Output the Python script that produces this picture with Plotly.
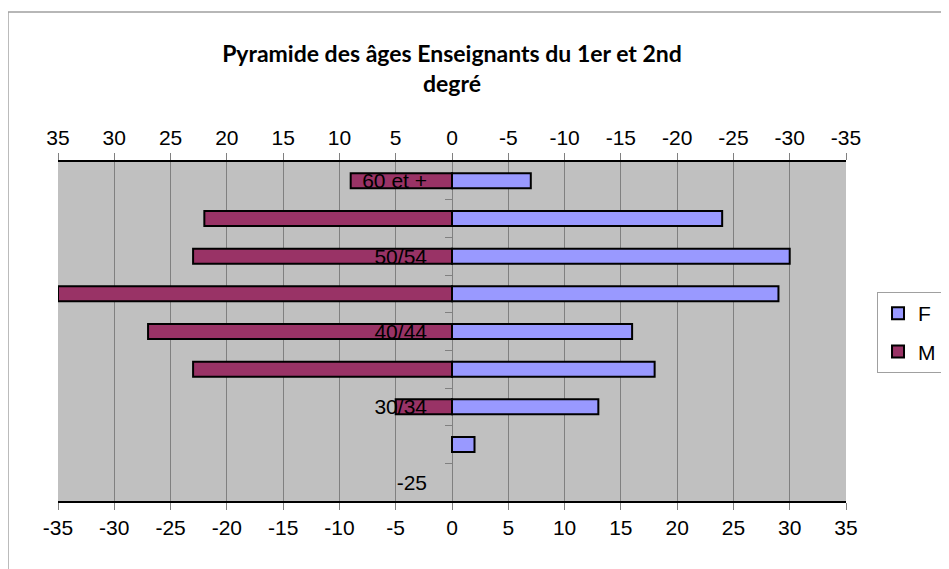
import plotly.graph_objects as go

# tranches d'âge, de la plus jeune (bas) à la plus âgée (haut)
ages = ["-25", "25/29", "30/34", "35/39", "40/44", "45/49", "50/54", "55/59", "60 et +"]
femmes = [0, 2, 13, 18, 16, 29, 30, 24, 7]
hommes = [0, 0, 5, 23, 27, 35, 23, 22, 9]

# graduations de l'axe horizontal (tiret simple comme dans Excel)
xticks = [-35, -30, -25, -20, -15, -10, -5, 0, 5, 10, 15, 20, 25, 30, 35]
xtick_text = [str(v) for v in xticks]

ypos = list(range(len(ages)))
shown_vals = ypos[::2]
shown_text = ages[::2]

axis_font = dict(family="Liberation Sans, Arial", size=21, color="black")


def no_zero(vals):
    return [v if v else None for v in vals]


fig = go.Figure()
fig.add_trace(go.Bar(
    y=ypos, x=no_zero(femmes), name="F", orientation="h", width=0.4,
    legendgroup="F",
    marker=dict(color="#9999FF", line=dict(color="black", width=2)),
    xaxis="x", yaxis="y",
))
fig.add_trace(go.Bar(
    y=ypos, x=no_zero(hommes), name="M", orientation="h", width=0.4,
    legendgroup="M",
    marker=dict(color="#993366", line=dict(color="black", width=2)),
    xaxis="x2", yaxis="y",
))

# la page ajoute 8 px de marge autour du graphique
fig.update_layout(
    width=941, height=561,
    margin=dict(l=50, r=103, t=154, b=68),
    paper_bgcolor="white",
    plot_bgcolor="#C0C0C0",
    barmode="overlay",
    title=dict(
        text="Pyramide des âges Enseignants du 1er et 2nd<br>degré",
        font=dict(family="Lato", size=23, color="black", weight="bold"),
        x=0.5, xref="paper", xanchor="center",
        y=0.903, yref="container", yanchor="top",
    ),
    xaxis=dict(
        range=[-35, 35], tickmode="array", tickvals=xticks, ticktext=xtick_text,
        ticks="outside", ticklen=7, tickcolor="#808080",
        showline=True, linecolor="black", linewidth=1.5,
        showgrid=True, gridcolor="#808080", gridwidth=1,
        zeroline=False, tickfont=axis_font, automargin=False,
    ),
    xaxis2=dict(
        range=[35, -35], tickmode="array", tickvals=xticks, ticktext=xtick_text,
        overlaying="x", side="top", anchor="y",
        ticks="outside", ticklen=7, tickcolor="#808080",
        showline=True, linecolor="black", linewidth=1.5,
        showgrid=False, zeroline=False, tickfont=axis_font, automargin=False,
    ),
    yaxis=dict(
        range=[-0.5, len(ages) - 0.5],
        anchor="free", position=0.5,
        tickmode="array", tickvals=shown_vals, ticktext=shown_text,
        ticks="", ticklabelstandoff=25,
        minor=dict(tickvals=[p + 0.5 for p in ypos[:-1]], ticks="outside",
                   ticklen=7, tickcolor="#808080", showgrid=False),
        showgrid=False, zeroline=False, showline=False,
        tickfont=axis_font, automargin=False,
    ),
    legend=dict(
        xref="container", yref="container",
        x=0.9235, xanchor="left", y=0.4216, yanchor="middle",
        bgcolor="white", bordercolor="#A0A0A0", borderwidth=1,
        font=axis_font, traceorder="grouped", tracegroupgap=8,
        itemwidth=30,
    ),
    showlegend=True,
)

# cadre gris du graphique
fig.add_shape(type="rect", xref="paper", yref="paper",
              x0=-0.0635, x1=1.2, y0=-0.3, y1=1.4425,
              line=dict(color="#A0A0A0", width=1.5), fillcolor="rgba(0,0,0,0)",
              layer="below")

fig.write_html("out.html")
